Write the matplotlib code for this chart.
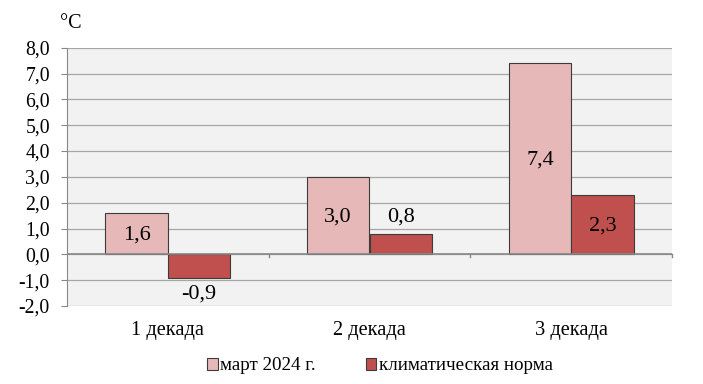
import matplotlib
matplotlib.use("Agg")
import matplotlib.pyplot as plt
import numpy as np

categories = ["1 декада", "2 декада", "3 декада"]
march_2024 = [1.6, 3.0, 7.4]
norm = [-0.9, 0.8, 2.3]
march_labels = ["1,6", "3,0", "7,4"]
norm_labels = ["-0,9", "0,8", "2,3"]
series_names = ["март 2024 г.", "климатическая норма"]
yticks = [-2, -1, 0, 1, 2, 3, 4, 5, 6, 7, 8]

plt.rcParams['font.family'] = ['Liberation Serif', 'DejaVu Serif']
plt.rcParams['font.size'] = 12

fig = plt.figure(figsize=(7.03, 3.84), dpi=100)
ax = fig.add_axes([67/703, 1-306/384, (672-67)/703, (306-47.7)/384])
ax.set_facecolor('#f2f2f2')

x = np.arange(len(categories))
w = 0.31
c1 = '#e6b9b8'
c2 = '#c0504d'
ec = '#3c3c3c'
b1 = ax.bar(x - w/2, march_2024, w, color=c1, edgecolor=ec, linewidth=0.8, zorder=3, label=series_names[0])
b2 = ax.bar(x + w/2, norm, w, color=c2, edgecolor=ec, linewidth=0.8, zorder=3, label=series_names[1])

ax.set_xlim(-0.5, 2.5)
ax.set_ylim(-2, 8)
ax.set_yticks(yticks)
ax.set_yticklabels([f"{v:.1f}".replace('.', ',') for v in yticks])
ax.grid(axis='y', color='#a6a6a6', linewidth=0.9, zorder=0)
for s in ['top', 'right', 'bottom']:
    ax.spines[s].set_visible(False)
ax.spines['left'].set_color('#888888')
ax.tick_params(axis='y', length=4.3, color='#888888', pad=8, labelsize=14.2)
ax.set_xticks([])
ax.axhline(0, color='#888888', linewidth=1.2, zorder=4)
for xb in [0.5, 1.5, 2.5]:
    ax.plot([xb, xb], [0, -0.12], color='#888888', linewidth=1, zorder=4, clip_on=False)
for i, c in enumerate(categories):
    ax.text(x[i], -2.93, c, ha='center', va='center', fontsize=14.7)

# value labels
for i in range(3):
    v = march_2024[i]
    ax.text(x[i] - w/2, v/2 - 0.06, march_labels[i], ha='center', va='center', fontsize=16, zorder=5)
ax.text(x[0] + w/2, -1.53, norm_labels[0], ha='center', va='center', fontsize=16, zorder=5)
ax.text(x[1] + w/2, 1.44, norm_labels[1], ha='center', va='center', fontsize=16, zorder=5)
ax.text(x[2] + w/2, norm[2]/2 - 0.06, norm_labels[2], ha='center', va='center', fontsize=16, zorder=5)

fig.text(60/703, 1-23/384, "°C", ha='left', va='center', fontsize=14.5)

leg = fig.legend(handles=[b1, b2], labels=series_names, loc='center', bbox_to_anchor=(380/703, 1-366/384),
                 ncol=2, frameon=False, fontsize=13.7, handlelength=0.55, handleheight=0.55,
                 handletextpad=0.15, columnspacing=2.6)

fig.savefig("out.png", dpi=100)
